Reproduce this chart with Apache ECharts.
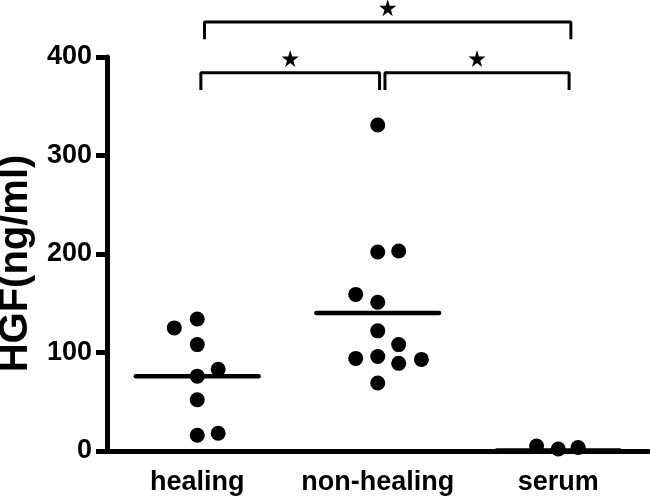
<!DOCTYPE html>
<html>
<head>
<meta charset="utf-8">
<script src="https://cdn.jsdelivr.net/npm/echarts@6/dist/echarts.min.js"></script>
<style>html,body{margin:0;padding:0;background:#fff}#c{width:650px;height:498px}</style>
</head>
<body>
<div id="c"></div>
<script>
// ---- data ----
var categories = ['healing', 'non-healing', 'serum'];
var yTicks = [0, 100, 200, 300, 400];
// [x position (group index + jitter), HGF value]
var healing = [[0.873,125],[1.0,134],[1.0,108],[1.0,76],[1.116,83],[1.0,52],[1.0,16],[1.116,18]];
var nonHealing = [[2.0,331],[2.0,202],[2.116,203],[1.878,159],[2.0,151],[2.0,122],[2.116,108],[1.878,94],[2.0,96],[2.116,89],[2.242,93],[2.0,69]];
var serum = [[2.88,5],[3.0,2],[3.11,3.5]];
var medians = [76, 140, 0.5];
// significance brackets: [from group, to group, label]
var brackets = [[1.04, 3.07, '*'], [1.02, 2.01, '*'], [2.04, 3.06, '*']];
var bracketLevels = [435.5, 384];   // horizontal heights (value units)
var bracketDrop = 17.5;             // vertical drop (value units)

// ---- build ----
var chart = echarts.init(document.getElementById('c'), null, {renderer: 'canvas'});
var FONT = '"Liberation Sans", Arial, Helvetica, sans-serif';
var starPath = 'path://M50,0 L61,35 L98,35 L68,57 L79,91 L50,70 L21,91 L32,57 L2,35 L39,35 Z';

var series = [];
[healing, nonHealing, serum].forEach(function (d) {
  series.push({
    type: 'scatter', xAxisIndex: 1, yAxisIndex: 0, data: d,
    symbol: 'circle', symbolSize: 15, clip: false,
    itemStyle: {color: '#000', opacity: 1}, z: 5
  });
});
medians.forEach(function (m, i) {
  var c = i + 1;
  series.push({
    type: 'line', xAxisIndex: 1, yAxisIndex: 0,
    data: [[c - 0.34, m], [c + 0.34, m]],
    symbol: 'none', clip: false,
    lineStyle: {color: '#000', width: 4.5, cap: 'round'}, z: 4
  });
});
var starData = [];
brackets.forEach(function (b, i) {
  var lvl = i === 0 ? bracketLevels[0] : bracketLevels[1];
  series.push({
    type: 'line', xAxisIndex: 1, yAxisIndex: 0,
    data: [[b[0], lvl - bracketDrop], [b[0], lvl], [b[1], lvl], [b[1], lvl - bracketDrop]],
    symbol: 'none', clip: false,
    lineStyle: {color: '#000', width: 3}, z: 4
  });
  starData.push([(b[0] + b[1]) / 2, lvl + 14.5]);
});
series.push({
  type: 'scatter', xAxisIndex: 1, yAxisIndex: 0, data: starData,
  symbol: starPath, symbolSize: 17, clip: false,
  itemStyle: {color: '#000', opacity: 1}, z: 5
});

chart.setOption({
  backgroundColor: '#fff',
  animation: false,
  grid: {left: 107, right: 1.5, top: 57, bottom: 47, containLabel: false, outerBoundsMode: 'none'},
  xAxis: [{
    type: 'category', data: categories, boundaryGap: true,
    axisLine: {lineStyle: {color: '#000', width: 5}},
    axisTick: {alignWithLabel: true, length: 12, lineStyle: {color: '#000', width: 5}},
    axisLabel: {interval: 0, hideOverlap: false, color: '#000', fontFamily: FONT, fontWeight: 'bold', fontSize: 27, margin: 18},
    splitLine: {show: false}
  }, {
    type: 'value', min: 0.5, max: 3.5, show: false, splitLine: {show: false}
  }],
  yAxis: [{
    type: 'value', min: yTicks[0], max: yTicks[yTicks.length - 1], interval: 100,
    name: 'HGF(ng/ml)', nameLocation: 'middle', nameGap: 60,
    nameTextStyle: {color: '#000', fontFamily: FONT, fontWeight: 'bold', fontSize: 40, padding: [0, 19, 0, 0]},
    axisLine: {show: true, lineStyle: {color: '#000', width: 5}},
    axisTick: {show: true, length: 11, lineStyle: {color: '#000', width: 5}},
    axisLabel: {color: '#000', fontFamily: FONT, fontWeight: 'bold', fontSize: 27, margin: 15},
    splitLine: {show: false}
  }],
  series: series
});
</script>
</body>
</html>
